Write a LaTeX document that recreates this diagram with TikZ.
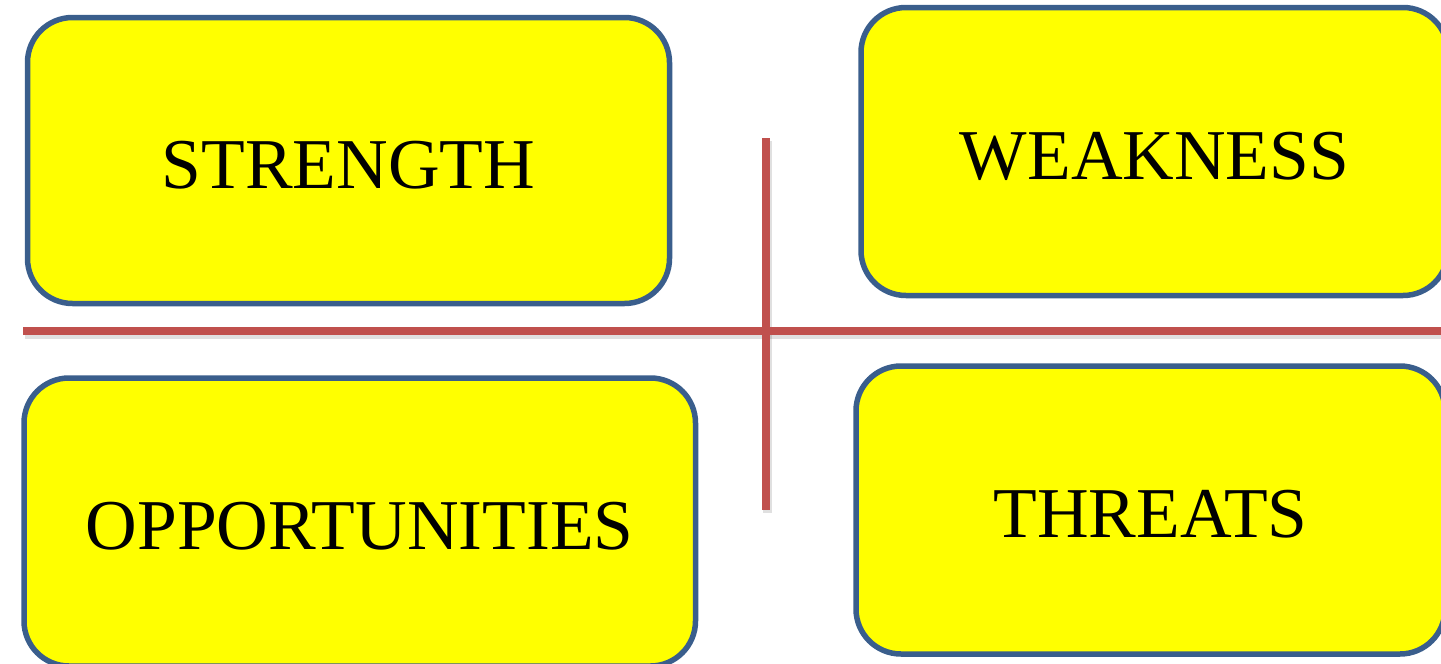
\documentclass[tikz,border=0pt]{standalone}
\usepackage{fontspec}
\setmainfont{Liberation Serif}
\definecolor{boxfill}{RGB}{255,255,0}
\definecolor{boxedge}{RGB}{58,94,140}
\definecolor{axisred}{RGB}{192,80,77}
\begin{document}
\begin{tikzpicture}[x=1pt,y=-1pt,
  swotbox/.style={draw=boxedge, fill=boxfill, line width=5.5pt,
    rounded corners=45pt, inner sep=0pt, text height=55pt, text depth=0pt,
    font=\fontsize{71.5}{80}\selectfont},
  axis/.style={draw=axisred, line width=8pt},
  axisshadow/.style={draw=black, opacity=0.12, line width=9pt}]
  \useasboundingbox (0,0) rectangle (1441,664);
  % four quadrant boxes
  \node[swotbox, minimum width=642pt, minimum height=286pt] (s) at (348.5,160.5) {STRENGTH};
  \node[swotbox, minimum width=587pt, minimum height=288pt] (w) at (1154.5,151.5) {WEAKNESS};
  \node[swotbox, minimum width=671.5pt, minimum height=288pt] (o) at (359.75,522) {OPPORTUNITIES};
  \node[swotbox, minimum width=589pt, minimum height=288pt] (t) at (1150.5,510) {THREATS};
  % dividing cross
  \coordinate (hl) at (23,331);
  \coordinate (hr) at (1445,331);
  \coordinate (vt) at (766,138);
  \coordinate (vb) at (766,510);
  \draw[axisshadow] ([shift={(1.5,3)}]hl) -- ([shift={(1.5,3)}]hr);
  \draw[axisshadow] ([shift={(1.5,3)}]vt) -- ([shift={(1.5,3)}]vb);
  \draw[axis] (hl) -- (hr);
  \draw[axis] (vt) -- (vb);
\end{tikzpicture}
\end{document}
